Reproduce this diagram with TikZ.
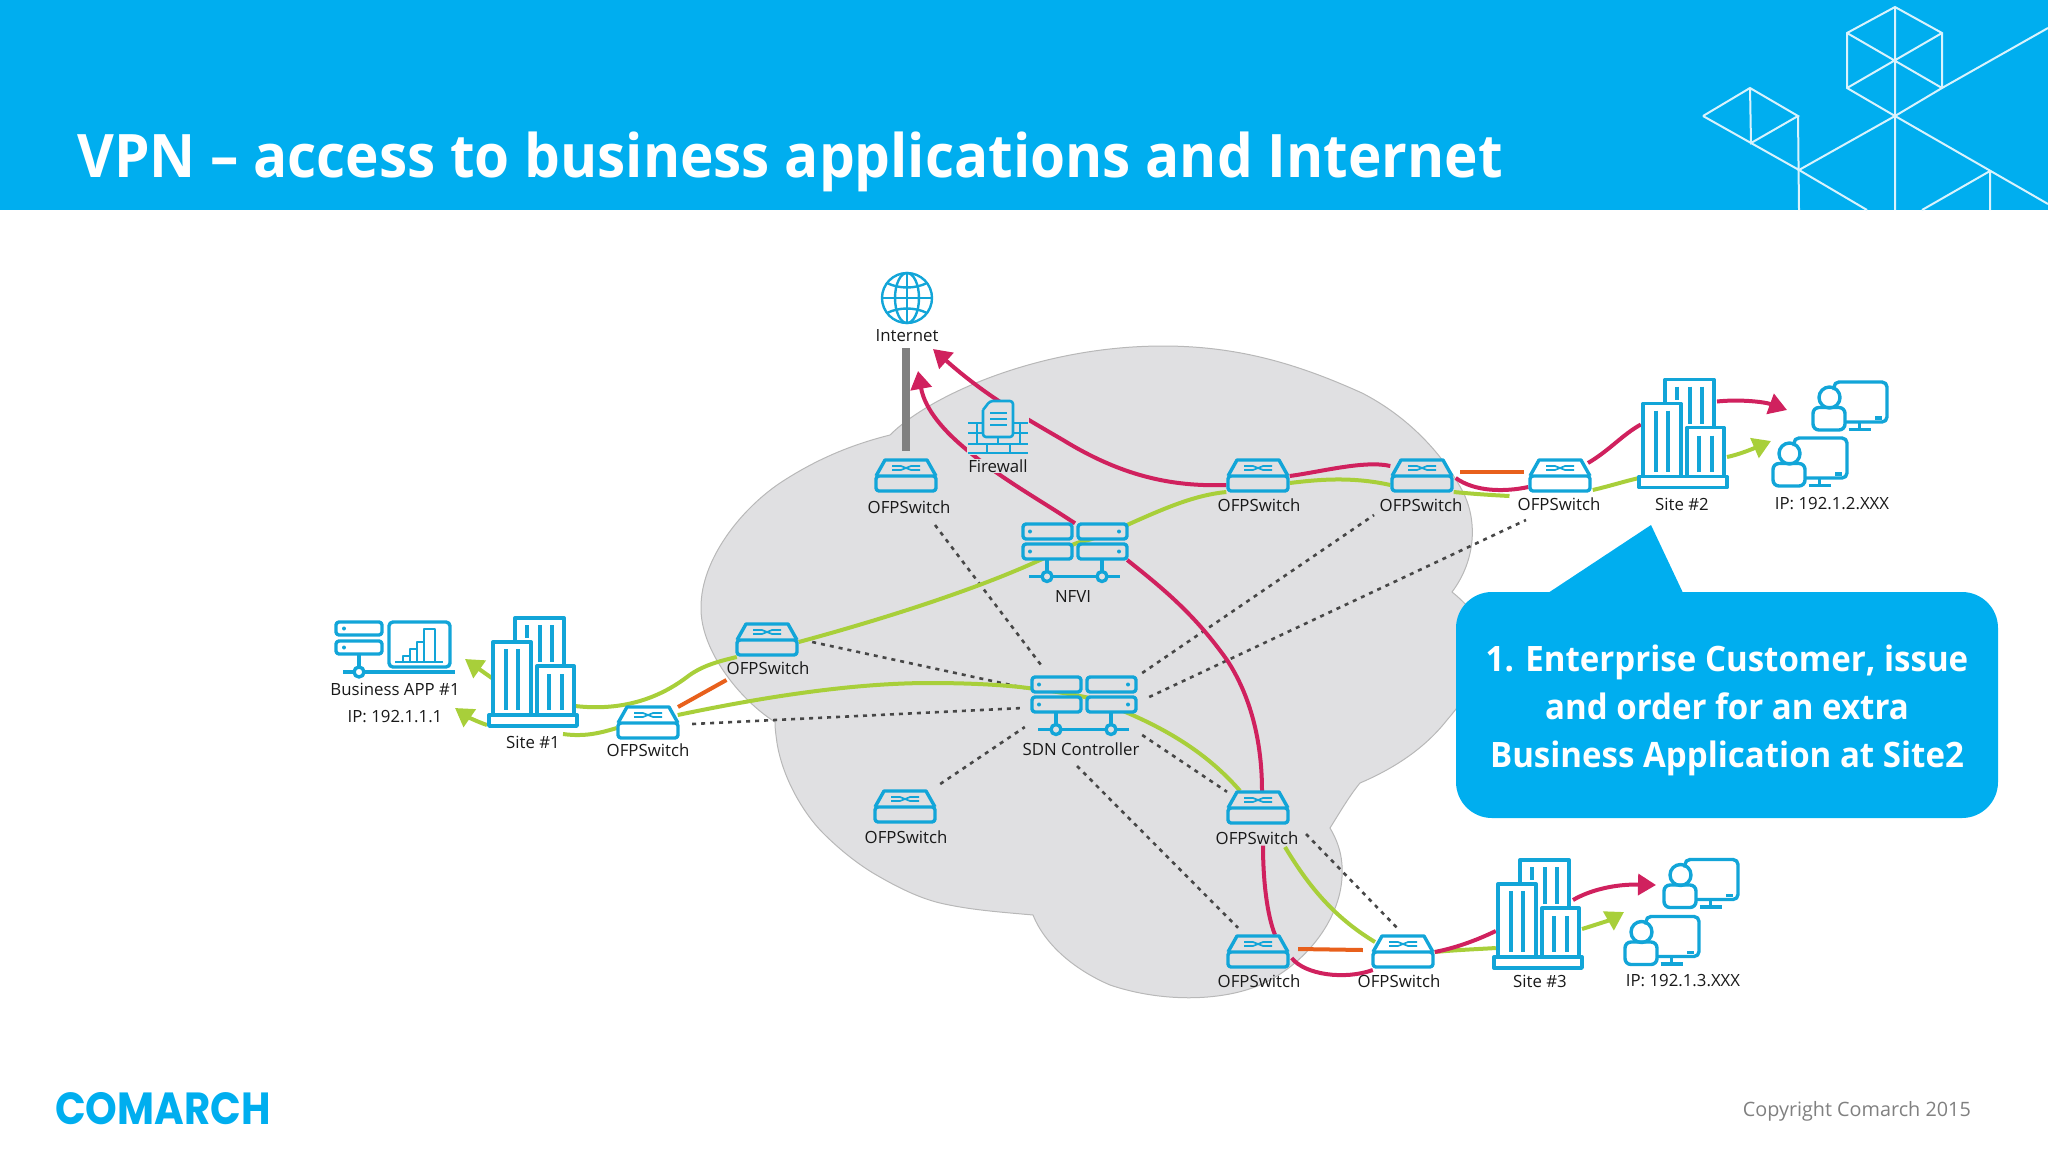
\documentclass[tikz,border=0pt]{standalone}
\usepackage{fontspec}
\setmainfont{Open Sans}
\newfontfamily\logofont{Poppins}[FakeStretch=0.895]
\newfontfamily\titlefont{Open Sans}[FakeStretch=0.944]
\usetikzlibrary{arrows.meta}
\definecolor{hdrblue}{HTML}{00AEEF}
\definecolor{iconblue}{HTML}{12A5D8}
\definecolor{cloudgray}{HTML}{E0E0E2}
\definecolor{redline}{HTML}{D0215E}
\definecolor{greenline}{HTML}{A8CF3A}
\definecolor{orangeline}{HTML}{E8601C}
\pgfdeclarelayer{bg}
\pgfdeclarelayer{lines}
\pgfsetlayers{bg,lines,main}

\tikzset{
  icon/.style={draw=iconblue,line width=3.4pt,line join=round},
  thin icon/.style={draw=iconblue,line width=1.7pt},
  lbl/.style={inner sep=0pt,text=black!90,font=\fontsize{16.8}{20}\selectfont},
  sw/.style={minimum width=63pt,minimum height=34pt,inner sep=0pt},
  site/.style={minimum width=90pt,minimum height=110pt,inner sep=0pt},
  srv/.style={minimum width=106pt,minimum height=59pt,inner sep=0pt},
  usr/.style={minimum width=77pt,minimum height=51pt,inner sep=0pt},
  rl/.style={draw=redline,line width=4pt},
  gl/.style={draw=greenline,line width=4pt},
  ol/.style={draw=orangeline,line width=4pt},
  dl/.style={draw=black!72,line width=2.6pt,dash pattern=on 4pt off 5pt},
  tip/.style={-{Triangle[length=18pt,width=21pt]}},
  deco/.style={draw=white!85!hdrblue,line width=2pt},
  ofp/.pic={
    \draw[icon,rounded corners=3pt] (-30,0) rectangle (30,15);
    \draw[icon] (-30,0) -- (-21,-16) -- (21,-16) -- (30,0);
    \draw[thin icon] (-14,-10) -- (-5,-10) -- (5,-6) -- (14,-6);
    \draw[thin icon] (-14,-6) -- (-5,-6) -- (5,-10) -- (14,-10);
  },
  bldg/.pic={
    \draw[icon] (-18,-30) -- (-18,-54) -- (31,-54) -- (31,-8);
    \draw[icon] (-40,43) -- (-40,-30) -- (-2,-30) -- (-2,43);
    \draw[icon] (4,43) -- (4,-6) -- (41,-6) -- (41,43);
    \draw[icon] (-44,43) rectangle (44,54);
    \draw[icon] (-27,-23) -- (-27,38) (-15,-23) -- (-15,38);
    \draw[icon] (-6,-47) -- (-6,-34) (7,-47) -- (7,-10) (19,-47) -- (19,-10);
    \draw[icon] (16,2) -- (16,38) (29,2) -- (29,38);
  },
  user/.pic={
    \draw[icon,rounded corners=5pt] (-16,-16) -- (-16,-24) -- (37,-24) -- (37,16) -- (-4,16);
    \draw[icon] (-20.5,-8.5) ellipse [x radius=10.5pt,y radius=10.5pt];
    \draw[icon,rounded corners=6pt] (-37,1.5) rectangle (-5,24);
    \draw[icon] (9.5,16) -- (9.5,23.5) (-1.5,23.5) -- (20.5,23.5);
    \draw[icon] (25,12) -- (32,12);
  },
  server/.pic={
    \foreach \yy in {-29,-9}{
      \draw[icon,fill=cloudgray,rounded corners=3pt] (-52,\yy) rectangle (-3,\yy+15);
      \draw[icon,fill=cloudgray,rounded corners=3pt] (3,\yy) rectangle (52,\yy+15);
      \fill[iconblue] (-45,\yy+7.5) circle[radius=2pt] (44,\yy+7.5) circle[radius=2pt];
    }
    \draw[icon] (-28,6) -- (-28,23.5) (27,6) -- (27,23.5) (-46,23.5) -- (45,23.5);
    \draw[icon,fill=cloudgray] (-28,23.5) circle[radius=5pt] (27,23.5) circle[radius=5pt];
  },
  globe/.pic={
    \draw[icon,line width=2.4pt] (0,0) circle[radius=25pt];
    \draw[icon,line width=2.4pt] (0,0) ellipse [x radius=12pt,y radius=25pt];
    \draw[icon,line width=2.4pt] (0,-25) -- (0,25) (-25,0) -- (25,0);
    \draw[icon,line width=2.4pt] (-20,-15) .. controls (-8,-9) and (8,-9) .. (20,-15);
    \draw[icon,line width=2.4pt] (-20,15) .. controls (-8,9) and (8,9) .. (20,15);
  },
  wall/.pic={
    \draw[icon,line width=2.6pt] (-30,-5) -- (-15,-5) (15,-5) -- (30,-5);
    \draw[icon,line width=2.6pt] (-30,5) -- (-15,5) (15,5) -- (30,5);
    \draw[icon,line width=2.6pt] (-30,16) -- (30,16) (-30,25) -- (30,25);
    \draw[icon,line width=2.6pt] (-21,-5) -- (-21,5) (22,-5) -- (22,5);
    \draw[icon,line width=2.6pt] (-21,5) -- (-21,16) (22,5) -- (22,16) (0,9) -- (0,16);
    \draw[icon,line width=2.6pt] (-11,16) -- (-11,25) (12,16) -- (12,25);
    \draw[icon,line width=2.6pt,rounded corners=3pt] (-15,-18) -- (-15,9) -- (15,9) -- (15,-27) -- (-8,-27) -- (-15,-18);
    \draw[icon,line width=2.2pt] (-8,-15) -- (9,-15) (-8,-9) -- (9,-9) (-8,-3) -- (9,-3);
  },
  apppic/.pic={
    \foreach \yy in {-38,-19}{
      \draw[icon,rounded corners=3pt] (-59,\yy) rectangle (-13,\yy+13);
      \fill[iconblue] (-51,\yy+6.5) circle[radius=2pt];
    }
    \draw[icon] (-36,-6) -- (-36,12) (-52,12) -- (60,12);
    \draw[icon,fill=white] (-36,12) circle[radius=5pt];
    \draw[icon,rounded corners=4pt] (-6,-38) rectangle (55,7);
    \draw[icon,line width=2.2pt] (0,2) -- (48,2);
    \draw[icon,line width=2.2pt] (8,2) rectangle (15,-4) (15,2) rectangle (22,-11) (22,2) rectangle (29,-18) (29,2) rectangle (40,-31);
  },
}

\begin{document}
\begin{tikzpicture}[x=1pt,y=-1pt]
\useasboundingbox (0,0) rectangle (2048,1152);

% header band and the white line pattern
\fill[hdrblue] (0,0) rectangle (2048,210);
\draw[deco] (1895,7) -- (1847,33) -- (1847,88) -- (1895,116) -- (1942,88) -- (1942,33) -- cycle;
\draw[deco] (1847,33) -- (1942,88) (1942,33) -- (1847,88) (1895,7) -- (1895,210);
\draw[deco] (1942,88) -- (2048,28) (1895,116) -- (1799,170) -- (1867,210);
\draw[deco] (1703,116) -- (1750,88) -- (1798,116) -- (1751,143) -- (1750,88);
\draw[deco] (1703,116) -- (1799,170) (1798,116) -- (1799,210);
\draw[deco] (1895,116) -- (2048,204) (1990,171) -- (1922,210) (1990,171) -- (1990,210);
\node[anchor=base west,inner sep=0pt,text=white,font=\titlefont\fontsize{60}{70}\selectfont\bfseries] (title) at (77,177)
  {VPN – access to business applications and Internet};

% cloud
\begin{pgfonlayer}{bg}
\draw[fill=cloudgray,draw=black!28,line width=1pt]
  (890,435) .. controls (930,395) and (1040,346) .. (1163,346)
  .. controls (1240,346) and (1300,365) .. (1362,393)
  .. controls (1405,415) and (1440,450) .. (1462,490)
  .. controls (1478,520) and (1476,560) .. (1452,592)
  .. controls (1500,630) and (1490,670) .. (1447,720)
  .. controls (1425,748) and (1395,768) .. (1360,783)
  .. controls (1350,795) and (1340,812) .. (1330,828)
  .. controls (1340,845) and (1343,860) .. (1342,877)
  .. controls (1340,920) and (1305,965) .. (1260,985)
  .. controls (1220,1002) and (1160,1002) .. (1110,985)
  .. controls (1075,970) and (1045,945) .. (1033,915)
  .. controls (1000,912) and (970,910) .. (940,903)
  .. controls (915,897) and (890,883) .. (873,873)
  .. controls (855,862) and (838,848) .. (823,833)
  .. controls (805,815) and (783,780) .. (777,743)
  .. controls (776,735) and (775,730) .. (775,722)
  .. controls (740,700) and (700,650) .. (701,607)
  .. controls (701,560) and (740,510) .. (780,483)
  .. controls (815,460) and (850,445) .. (890,435) -- cycle;
\end{pgfonlayer}

% switches
\foreach \nm/\px/\py in {swa/906/476,swb/1258/476,swc/1422/476,swd/1560/476,swe/767/640,swf/648/723,swg/905/807,swh/1258/808,swi/1258/952,swj/1403/952}{
  \node[sw] (\nm) at (\px,\py) {};
  \pic at (\px,\py) {ofp};
}
\node[lbl] (lbla) at (909,507) {OFPSwitch};
\node[lbl] (lblb) at (1259,505) {OFPSwitch};
\node[lbl] (lblc) at (1421,505) {OFPSwitch};
\node[lbl] (lbld) at (1559,504) {OFPSwitch};
\node[lbl] (lble) at (768,668) {OFPSwitch};
\node[lbl] (lblf) at (648,750) {OFPSwitch};
\node[lbl] (lblg) at (906,837) {OFPSwitch};
\node[lbl] (lblh) at (1257,838) {OFPSwitch};
\node[lbl] (lbli) at (1259,981) {OFPSwitch};
\node[lbl] (lblj) at (1399,981) {OFPSwitch};

% internet
\node[minimum size=52pt,inner sep=0pt] (inet) at (907,298) {};
\pic at (907,298) {globe};
\node[lbl] (lblnet) at (907,336) {Internet};

% firewall, NFVI, SDN controller
\node[fill=cloudgray,minimum width=62pt,minimum height=54pt,inner sep=0pt] (fw) at (998,428) {};
\pic at (998,428) {wall};
\node[lbl,fill=cloudgray,inner sep=1pt] (lblfw) at (998,466) {Firewall};
\node[srv] (nfvi) at (1075,553) {};
\pic at (1075,553) {server};
\node[lbl] (lblnfvi) at (1073,596) {NFVI};
\node[srv] (sdn) at (1084,706) {};
\pic at (1084,706) {server};
\node[lbl] (lblsdn) at (1081,749) {SDN Controller};

% sites
\node[site] (site1) at (533,672) {};
\pic at (533,672) {bldg};
\node[lbl] (lblsa) at (533,742) {Site \#1};
\node[site] (site2) at (1683,433.5) {};
\pic at (1683,433.5) {bldg};
\node[lbl] (lblsb) at (1682,504) {Site \#2};
\node[site] (site3) at (1538,914) {};
\pic at (1538,914) {bldg};
\node[lbl] (lblsc) at (1540,981) {Site \#3};

% user groups
\node[usr] (ub1) at (1850,406) {};
\pic at (1850,406) {user};
\node[usr] (ub2) at (1810,462) {};
\pic at (1810,462) {user};
\node[lbl] (ipb) at (1832,504) {IP: 192.1.2.XXX};
\node[usr] (uc1) at (1701,883.5) {};
\pic at (1701,883.5) {user};
\node[usr] (uc2) at (1662,940.5) {};
\pic at (1662,940.5) {user};
\node[lbl] (ipc) at (1683,981) {IP: 192.1.3.XXX};

% business application
\node[minimum width=119pt,minimum height=55pt,inner sep=0pt] (app) at (395,660) {};
\pic at (395,660) {apppic};
\node[lbl] (lblapp) at (395,689) {Business APP \#1};
\node[lbl] (ipa) at (395,717) {IP: 192.1.1.1};

% arrow ends
\coordinate (tipa) at (933,349);
\coordinate (tipb) at (918,371);
\coordinate (tipc) at (1787,410);
\coordinate (tipd) at (1771,441);
\coordinate (tipe) at (1656,885);
\coordinate (tipf) at (1624,912);
\coordinate (tipg) at (465,659);
\coordinate (tiph) at (455,708);

\begin{pgfonlayer}{lines}
% uplink bar
\draw[draw=black!50,line width=7.5pt] ([shift={(-1,6)}]lblnet.south) -- ([shift={(0,-8)}]swa.north);

% control links
\draw[dl] ([shift={(13.5,2)}]swe.east) -- ([shift={(-6,-18)}]sdn.west);
\draw[dl] ([shift={(12.5,1)}]swf.east) -- ([shift={(-8,2)}]sdn.west);
\draw[dl] ([shift={(26,18)}]lbla.center) -- ([shift={(-42,-10)}]sdn.north);
\draw[dl] ([shift={(3.5,-23)}]swg.east) -- ([shift={(-6,21)}]sdn.west);
\draw[dl] ([shift={(-4,17)}]lblsdn.center) -- ([shift={(-20,-7)}]swi.north);
\draw[dl] ([shift={(5,29)}]sdn.east) -- ([shift={(-31,1)}]swh.north);
\draw[dl] ([shift={(5,-33)}]sdn.east) -- ([shift={(-47,10)}]lblc.center);
\draw[dl] ([shift={(12,-9)}]sdn.east) -- ([shift={(-33,16)}]lbld.center);
\draw[dl] ([shift={(49,-4)}]lblh.center) -- ([shift={(-6,-7)}]swj.north);

% orange links
\draw[ol] ([shift={(30,-16)}]swf.center) -- ([shift={(0,12)}]lble.west);
\draw[ol] ([shift={(6.5,-4)}]swc.east) -- ([shift={(-4.5,-4)}]swd.west);
\draw[ol] ([shift={(8.5,-3)}]swi.east) -- ([shift={(-8.5,-2)}]swj.west);

% green links
\draw[gl] ([shift={(42,34)}]site1.center) .. controls (610,710) and (650,705) .. (687,677)
  .. controls (700,667) and (715,662) .. ([shift={(1.5,17)}]swe.west);
\draw[gl] ([shift={(0,2)}]swe.east) .. controls (880,620) and (975,590) .. (1040,560)
  .. controls (1055,553) and (1065,547) .. (1080,542)
  .. controls (1095,539) and (1110,532) .. (1127,525)
  .. controls (1165,508) and (1195,495) .. ([shift={(0,16)}]swb.west);
\draw[gl] ([shift={(0,7)}]swb.east) .. controls (1315,480) and (1350,476) .. ([shift={(0,9)}]swc.west);
\draw[gl] ([shift={(0,16)}]swc.east) .. controls (1475,494) and (1490,495) .. ([shift={(-8,-8)}]lbld.west);
\draw[gl] ([shift={(1,14)}]swd.east) .. controls (1610,486) and (1622,482) .. ([shift={(1,44.5)}]site2.west);
\draw[gl,tip] ([shift={(44,23.5)}]site2.center) .. controls (1737,455) and (1750,450) .. (tipd);
\draw[gl,tip] ([shift={(4,6)}]site1.west) -- (tipg);
\draw[gl,tip] ([shift={(-46,53)}]site1.center) .. controls (478,722) and (468,717) .. (tiph);
\draw[gl] ([shift={(0.5,5)}]swf.west) .. controls (600,733) and (585,737) .. ([shift={(3,-8)}]lblsa.east);
\draw[gl] ([shift={(-2,-8)}]swf.east) .. controls (740,702) and (840,683) .. (930,683)
  .. controls (970,683) and (1010,685) .. (1035,689)
  .. controls (1060,692) and (1075,695) .. (1090,698)
  .. controls (1150,720) and (1200,745) .. ([shift={(-18,0)}]swh.north);
\draw[gl] ([shift={(28,9)}]lblh.center) .. controls (1305,880) and (1330,915) .. ([shift={(-28,-10)}]swj.center);
\draw[gl] (swj.east) .. controls (1455,950) and (1480,949) .. ([shift={(3,34)}]site3.west);
\draw[gl,tip] ([shift={(44,15)}]site3.center) .. controls (1595,925) and (1610,920) .. (tipf);

% red links
\draw[rl,tip] ([shift={(0,9)}]swb.west) .. controls (1170,487) and (1120,475) .. (1063,440)
  .. controls (1020,415) and (985,395) .. (tipa);
\draw[rl,tip] (nfvi.north) .. controls (1040,500) and (1000,478) .. (967,450)
  .. controls (945,432) and (925,410) .. (tipb);
\draw[rl] ([shift={(-1,7)}]nfvi.east) .. controls (1165,590) and (1195,615) .. (1227,660)
  .. controls (1250,695) and (1262,740) .. ([shift={(4,0)}]swh.north);
\draw[rl] ([shift={(6,1)}]lblh.south) .. controls (1263,880) and (1267,915) .. ([shift={(17,0)}]swi.north);
\draw[rl] ([shift={(2,6)}]swi.east) .. controls (1305,975) and (1345,980) .. ([shift={(1.5,18)}]swj.west);
\draw[rl] (swj.east) .. controls (1455,948) and (1475,941) .. ([shift={(3,17)}]site3.west);
\draw[rl,tip] ([shift={(35,-14)}]site3.center) .. controls (1590,890) and (1615,884) .. (tipe);
\draw[rl] (swb.east) .. controls (1320,472) and (1365,460) .. ([shift={(0,-10)}]swc.west);
\draw[rl] ([shift={(2,2)}]swc.east) .. controls (1475,492) and (1505,492) .. ([shift={(0,11)}]swd.west);
\draw[rl] ([shift={(28,-13)}]swd.center) .. controls (1610,450) and (1622,435) .. ([shift={(3,-9)}]site2.west);
\draw[rl,tip] ([shift={(34,-32)}]site2.center) .. controls (1740,399) and (1765,402) .. (tipc);
\end{pgfonlayer}

% callout
\fill[hdrblue] (1545,595) -- (1651,525) -- (1684,595) -- cycle;
\node[fill=hdrblue,rounded corners=36pt,minimum width=542pt,minimum height=226pt,inner sep=0pt] (call) at (1727,705) {};
\node[align=center,inner sep=0pt,text=white,font=\titlefont\fontsize{35}{48}\selectfont\bfseries] (calltext) at (1727,710)
  {1. Enterprise Customer, issue\\and order for an extra\\Business Application at Site2};

% footer
\node[anchor=west,inner sep=0pt,text=hdrblue,font=\logofont\fontsize{45}{50}\selectfont\bfseries] (logo) at (55,1109) {COMARCH};
\node[anchor=east,inner sep=0pt,text=black!50,font=\fontsize{19.8}{24}\selectfont] (copy) at (1971,1111) {Copyright Comarch 2015};
\end{tikzpicture}
\end{document}
